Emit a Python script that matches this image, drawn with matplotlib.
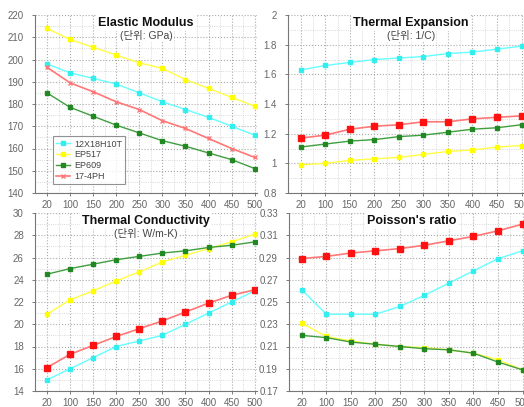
import matplotlib
matplotlib.use("Agg")
import matplotlib.pyplot as plt
from matplotlib.ticker import MultipleLocator

plt.rcParams['font.family'] = ['Liberation Sans', 'Noto Sans CJK KR', 'DejaVu Sans']

temps = ['20', '100', '150', '200', '250', '300', '350', '400', '450', '500']
names = ['12X18H10T', 'EP517', 'EP609', '17-4PH']

# Elastic modulus (GPa)
em_12x = [198, 194, 191.5, 189, 185, 181, 177.5, 174, 170, 166]
em_ep517 = [214, 209, 205.5, 202, 198.5, 196, 191, 187, 183, 179]
em_ep609 = [185, 178.5, 174.5, 170.5, 167, 163.5, 161, 158, 155, 151]
em_174ph = [196.5, 189.5, 185.5, 181, 177.5, 172.5, 169, 164.5, 160, 156]

# Thermal expansion (1/C)
te_12x = [1.63, 1.66, 1.68, 1.70, 1.71, 1.72, 1.74, 1.75, 1.77, 1.79]
te_ep517 = [0.99, 1.00, 1.02, 1.03, 1.04, 1.06, 1.08, 1.09, 1.11, 1.12]
te_ep609 = [1.11, 1.13, 1.15, 1.16, 1.18, 1.19, 1.21, 1.23, 1.24, 1.26]
te_174ph = [1.17, 1.19, 1.23, 1.25, 1.26, 1.28, 1.28, 1.30, 1.31, 1.32]

# Thermal conductivity (W/m-K)
tc_12x = [15.0, 16.0, 17.0, 18.0, 18.5, 19.0, 20.0, 21.0, 22.0, 23.0]
tc_ep517 = [20.9, 22.2, 23.0, 23.9, 24.7, 25.6, 26.2, 26.8, 27.4, 28.1]
tc_ep609 = [24.5, 25.0, 25.4, 25.8, 26.1, 26.4, 26.6, 26.9, 27.1, 27.4]
tc_174ph = [16.1, 17.3, 18.1, 18.9, 19.6, 20.3, 21.1, 21.9, 22.6, 23.1]

# Poisson's ratio
pr_12x = [0.261, 0.239, 0.239, 0.239, 0.246, 0.256, 0.267, 0.278, 0.289, 0.296]
pr_ep517 = [0.231, 0.219, 0.215, 0.212, 0.210, 0.209, 0.207, 0.204, 0.198, 0.189]
pr_ep609 = [0.220, 0.218, 0.214, 0.212, 0.210, 0.208, 0.207, 0.204, 0.196, 0.189]
pr_174ph = [0.289, 0.291, 0.294, 0.296, 0.298, 0.301, 0.305, 0.309, 0.314, 0.320]

line_colors = ['#66ffff', '#ffff44', '#3f9f3f', '#ff7777']
mark_colors = ['#33eeee', '#ffff00', '#228822', '#ff1111']

fig = plt.figure(figsize=(5.24, 4.07), dpi=100)
W, H = 524, 407


def make_ax(left, top, right, bottom):
    return fig.add_axes([left / W, 1 - bottom / H, (right - left) / W, (bottom - top) / H])


axes = [
    make_ax(35, 15, 257, 193),
    make_ax(288, 15, 524, 193),
    make_ax(35, 213, 257, 391),
    make_ax(289, 213, 525, 391),
]

datasets = [
    (em_12x, em_ep517, em_ep609, em_174ph),
    (te_12x, te_ep517, te_ep609, te_174ph),
    (tc_12x, tc_ep517, tc_ep609, tc_174ph),
    (pr_12x, pr_ep517, pr_ep609, pr_174ph),
]
ylims = [(140, 220), (0.8, 2.0), (14, 30), (0.17, 0.33)]
ysteps = [10, 0.2, 2, 0.02]
yfmt = ['{:.0f}', '{:g}', '{:.0f}', '{:.2f}']
titles = ['Elastic Modulus', 'Thermal Expansion', 'Thermal Conductivity', "Poisson's ratio"]
subtitles = ['(단위: GPa)', '(단위: 1/C)', '(단위: W/m-K)', None]

x = list(range(len(temps)))
for i, ax in enumerate(axes):
    for j, series in enumerate(datasets[i]):
        if j == 3 and i > 0:
            ax.plot(x, series, color=line_colors[j], lw=1.2, marker='s', ms=5,
                    mfc=mark_colors[j], mec=mark_colors[j], label=names[j], zorder=3)
        elif j == 3:
            ax.plot(x, series, color=line_colors[j], lw=1.2, marker='x', ms=2.5,
                    mec=line_colors[j], label=names[j], zorder=3)
        else:
            ax.plot(x, series, color=line_colors[j], lw=1.0, marker='s', ms=2.2,
                    mfc=mark_colors[j], mec=mark_colors[j], label=names[j], zorder=3)
    lo, hi = ylims[i]
    n = int(round((hi - lo) / ysteps[i]))
    yt = [round(lo + k * ysteps[i], 4) for k in range(n + 1)]
    ax.set_xlim(-0.52, 9.1)
    ax.set_xticks(x)
    ax.set_xticklabels(temps)
    ax.xaxis.set_minor_locator(MultipleLocator(0.5))
    ax.set_yticks(yt)
    ax.set_yticklabels([yfmt[i].format(v) for v in yt])
    ax.set_yticks([round(lo + (k + 0.5) * ysteps[i], 4) for k in range(n)], minor=True)
    ax.set_ylim(lo, hi)
    ax.grid(True, which='major', color='#aaaaaa', ls=':', lw=0.8)
    ax.grid(True, which='minor', color='#cccccc', ls=':', lw=0.6)
    ax.tick_params(labelsize=7, colors='#666666', length=2, width=0.6)
    ax.tick_params(axis='y', pad=6)
    ax.tick_params(axis='x', pad=3)
    ax.tick_params(which='minor', length=0)
    for s in ['top', 'right']:
        ax.spines[s].set_visible(False)
    for s in ['left', 'bottom']:
        ax.spines[s].set_color('#777777')
        ax.spines[s].set_linewidth(0.8)

    cx = 0.5 if i % 2 == 0 else 0.52
    ax.text(cx, 0.955, titles[i], transform=ax.transAxes, ha='center', va='center',
            fontsize=9, fontweight='bold', color='#111111', zorder=5,
            bbox=dict(facecolor='white', edgecolor='none', pad=1.5))
    if subtitles[i]:
        ax.text(cx, 0.885, subtitles[i], transform=ax.transAxes, ha='center', va='center',
                fontsize=7.5, color='#444444', zorder=5,
                bbox=dict(facecolor='white', edgecolor='none', pad=1.0))

leg = axes[0].legend(loc='lower left', bbox_to_anchor=(0.08, 0.05), borderaxespad=0,
                     fontsize=6.5, frameon=True, fancybox=False, handlelength=1.6,
                     handletextpad=0.4, borderpad=0.35, labelspacing=0.2,
                     labelcolor='#444444')
leg.get_frame().set_edgecolor('#777777')
leg.get_frame().set_linewidth(0.8)

fig.savefig('out.png', dpi=100)
